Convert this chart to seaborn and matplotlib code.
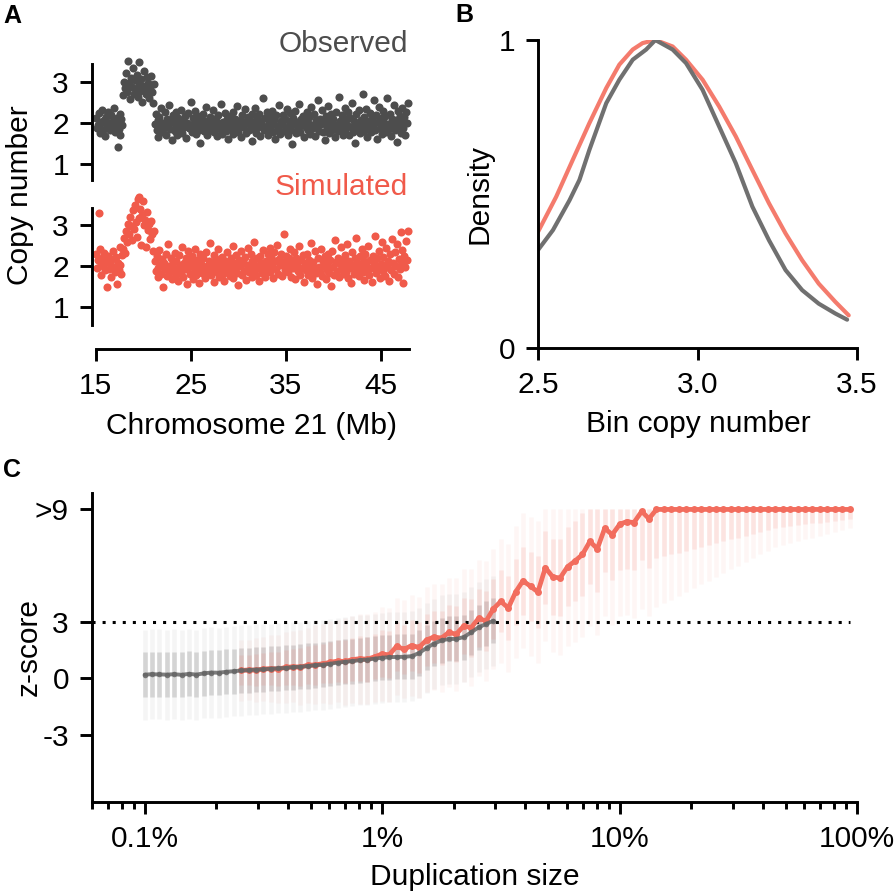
import numpy as np
import pandas as pd
import matplotlib
matplotlib.use("Agg")
import matplotlib.pyplot as plt
import seaborn as sns
from matplotlib.ticker import LogLocator, NullFormatter

# Style
sns.set_style("ticks")
plt.rcParams["font.family"] = ["Liberation Sans", "DejaVu Sans"]
plt.rcParams["axes.edgecolor"] = "black"
plt.rcParams["xtick.color"] = "black"
plt.rcParams["ytick.color"] = "black"
plt.rcParams["text.color"] = "black"
plt.rcParams["axes.labelcolor"] = "black"

FS = 21.5
OBS_A, SIM_A = "#4D4D4D", "#F05A4A"
OBS_B, SIM_B = "#707070", "#F47B6D"
OBS_C, SIM_C = "#666666", "#F26D5E"

# ---------------- Panel A: copy number per 100 kb bin on chr21 ----------------
bin_start_mb = 15.0
bin_size_mb = 0.1

obs_left = [212, 188, 195, 224, 176, 203, 199, 231, 184, 207,
            168, 215, 193, 226, 201, 182, 219, 190, 205, 236,
            178, 197, 213, 141, 186, 222, 171, 209, 194]
obs_dup = [268, 301, 285, 322, 276, 352, 297, 259, 311, 288,
           334, 272, 305, 282, 318, 264, 295, 348, 279, 308,
           251, 291, 326, 284, 270, 312, 298, 262, 287, 315,
           276, 248, 294]
obs_right = [198, 221, 183, 207, 165, 214, 192, 236, 178, 201, 189, 227, 172, 210, 195, 244, 186, 203, 158, 219,
             208, 181, 226, 194, 170, 212, 199, 185, 231, 176, 205, 191, 218, 163, 200, 224, 187, 196, 252, 179,
             213, 188, 204, 229, 174, 197, 216, 183, 151, 209, 193, 222, 180, 206, 239, 171, 201, 190, 215, 184,
             196, 232, 177, 211, 189, 205, 168, 220, 199, 186, 247, 174, 203, 192, 225, 181, 210, 160, 198, 217,
             185, 202, 228, 173, 194, 211, 187, 241, 179, 206, 195, 166, 219, 190, 203, 233, 176, 200, 214, 182,
             207, 193, 155, 221, 186, 199, 237, 175, 210, 191, 223, 169, 204, 196, 260, 183, 212, 188, 227, 172,
             201, 216, 184, 195, 230, 178, 208, 162, 220, 193, 185, 243, 174, 206, 198, 219, 181, 211, 189, 235,
             170, 204, 192, 224, 183, 150, 213, 197, 229, 176, 202, 188, 246, 179, 209, 194, 218, 165, 205, 190,
             226, 182, 200, 214, 173, 238, 196, 187, 221, 168, 207, 193, 255, 180, 211, 198, 232, 177, 203, 159,
             217, 189, 206, 242, 175, 199, 223, 184, 210, 192, 166, 228, 195, 181, 264, 204, 187, 219, 172, 201,
             236, 183, 209, 196, 226, 170, 213, 190, 248, 178, 205, 152, 222, 198, 186, 231, 175, 207, 193, 270,
             181, 215, 199, 234, 167, 204, 189, 225, 177, 210, 196, 257, 184, 219, 161, 202, 240, 188, 213, 174,
             206, 229, 191, 217, 179, 262, 198, 185, 223, 169, 211, 195, 245, 182, 208, 154, 230, 193, 218, 176,
             203, 236, 187, 214, 171, 226, 199, 248]

sim_left = [228, 196, 214, 329, 241, 205, 177, 219, 200, 232,
            189, 210, 149, 224, 193, 206, 172, 217, 236, 198,
            185, 222, 155, 208, 190, 246, 202, 181, 226]
sim_dup = [242, 268, 231, 285, 259, 302, 277, 318, 296, 262,
           335, 289, 348, 307, 271, 362, 316, 368, 338, 251,
           324, 357, 299, 312, 245, 331, 287, 303, 266, 309,
           278, 236, 284]
sim_right = [211, 187, 224, 196, 172, 238, 203, 181, 216, 148, 207, 193, 229, 176, 254, 199, 185, 220, 168, 209,
             195, 231, 178, 213, 190, 162, 226, 201, 184, 245, 173, 206, 192, 218, 157, 237, 198, 181, 210, 224,
             169, 203, 190, 242, 177, 214, 196, 158, 228, 205, 183, 219, 193, 171, 235, 200, 186, 212, 255, 179,
             207, 192, 226, 160, 199, 217, 184, 240, 174, 208, 195, 222, 181, 164, 213, 198, 233, 187, 204, 176,
             219, 190, 248, 171, 206, 193, 227, 182, 153, 214, 199, 236, 178, 210, 187, 221, 166, 202, 243, 185,
             196, 230, 174, 211, 189, 257, 201, 179, 218, 194, 163, 225, 206, 183, 239, 197, 172, 213, 191, 228,
             208, 243, 186, 222, 199, 170, 234, 211, 193, 251, 180, 216, 203, 228, 176, 209, 278, 190, 224, 197,
             185, 219, 206, 241, 174, 212, 195, 233, 168, 220, 201, 187, 248, 179, 214, 196, 226, 161, 208, 190,
             230, 177, 203, 215, 188, 256, 171, 209, 194, 237, 182, 157, 220, 198, 186, 242, 175, 211, 200, 224,
             168, 205, 191, 229, 183, 214, 150, 236, 197, 178, 262, 209, 188, 220, 173, 204, 246, 192, 215, 181,
             199, 227, 186, 253, 170, 212, 195, 158, 234, 203, 180, 218, 268, 191, 207, 176, 225, 198, 240, 184,
             213, 166, 230, 201, 189, 249, 178, 215, 196, 160, 224, 207, 273, 183, 219, 194, 236, 171, 205, 258,
             188, 221, 202, 176, 244, 197, 213, 162, 229, 190, 266, 208, 181, 235, 199, 253, 174, 216, 193, 282,
             206, 238, 159, 224, 197, 261, 214, 286]

chrom_ticks = [15, 25, 35, 45]

# ---------------- Panel B: density of bin copy number in the duplication ----------------
dens_obs_x = [2.500, 2.547, 2.599, 2.630, 2.661, 2.714, 2.755, 2.797, 2.839, 2.868, 2.922,
              2.964, 3.016, 3.068, 3.120, 3.172, 3.224, 3.276, 3.328, 3.380, 3.432, 3.469]
dens_obs_y = [0.318, 0.383, 0.480, 0.546, 0.643, 0.795, 0.871, 0.936, 0.969, 1.000, 0.969,
              0.925, 0.838, 0.719, 0.600, 0.459, 0.350, 0.253, 0.188, 0.144, 0.112, 0.092]
dens_sim_x = [2.500, 2.557, 2.609, 2.661, 2.714, 2.755, 2.797, 2.828, 2.868, 2.922, 2.964,
              3.016, 3.068, 3.120, 3.172, 3.224, 3.276, 3.328, 3.380, 3.432, 3.474]
dens_sim_y = [0.377, 0.491, 0.611, 0.730, 0.844, 0.920, 0.969, 0.990, 1.000, 0.979, 0.936,
              0.871, 0.784, 0.687, 0.578, 0.470, 0.372, 0.285, 0.209, 0.150, 0.106]

# ---------------- Panel C: z-score vs duplication size ----------------
size_pct = [0.100, 0.107, 0.115, 0.124, 0.133, 0.143, 0.154, 0.165, 0.178, 0.191,
            0.205, 0.221, 0.237, 0.255, 0.274, 0.294, 0.316, 0.340, 0.365, 0.392,
            0.422, 0.453, 0.487, 0.523, 0.562, 0.604, 0.649, 0.698, 0.750, 0.806,
            0.866, 0.931, 1.00, 1.07, 1.15, 1.24, 1.33, 1.43, 1.54, 1.65,
            1.78, 1.91, 2.05, 2.21, 2.37, 2.55, 2.74, 2.94, 3.16, 3.40,
            3.65, 3.92, 4.22, 4.53, 4.87, 5.23, 5.62, 6.04, 6.49, 6.98,
            7.50, 8.06, 8.66, 9.31, 10.0, 10.7, 11.5, 12.4, 13.3, 14.3,
            15.4, 16.5, 17.8, 19.1, 20.5, 22.1, 23.7, 25.5, 27.4, 29.4,
            31.6, 34.0, 36.5, 39.2, 42.2, 45.3, 48.7, 52.3, 56.2, 60.4,
            64.9, 69.8, 75.0, 80.6, 86.6, 93.1]

# observed median z-score (first 48 sizes)
obs_z = [0.20, 0.22, 0.21, 0.20, 0.22, 0.19, 0.24, 0.20, 0.27, 0.31,
         0.30, 0.35, 0.38, 0.42, 0.44, 0.47, 0.48, 0.52, 0.53, 0.56,
         0.60, 0.62, 0.66, 0.70, 0.73, 0.78, 0.84, 0.88, 0.92, 0.97,
         1.00, 1.05, 1.10, 1.13, 1.14, 1.15, 1.18, 1.35, 1.62, 1.85,
         2.02, 2.10, 2.10, 2.20, 2.45, 2.72, 2.90, 3.07]
obs_spread = 1.2

# simulated median z-score (sizes from index 13 on), capped at >9
sim_start = 13
sim_z = [0.42, 0.45, 0.44, 0.50, 0.52, 0.50, 0.58, 0.62, 0.60, 0.70,
         0.72, 0.78, 0.85, 0.92, 0.90, 1.00, 1.05, 1.02, 1.15, 1.30,
         1.25, 1.70, 1.55, 1.75, 1.65, 2.05, 2.20, 2.15, 2.45, 2.35,
         2.80, 2.70, 3.20, 3.05, 3.70, 4.10, 3.75, 4.60, 5.20, 4.90,
         4.60, 5.90, 5.40, 5.35, 5.95, 6.25, 6.60, 7.30, 6.90, 8.00,
         7.65, 8.20, 8.35, 8.30, 8.90, 8.50, 9.00, 9.00, 9.00, 9.00,
         9.00, 9.00, 9.00, 9.00, 9.00, 9.00, 9.00, 9.00, 9.00, 9.00,
         9.00, 9.00, 9.00, 9.00, 9.00, 9.00, 9.00, 9.00, 9.00, 9.00,
         9.00, 9.00, 9.00]
sim_spread = [0.80, 0.80, 0.85, 0.85, 0.90, 0.90, 0.95, 0.95,
              1.00, 1.00, 1.05, 1.05, 1.10, 1.10, 1.15, 1.15, 1.20, 1.20, 1.20,
              1.25, 1.25, 1.30, 1.30, 1.35, 1.35, 1.40, 1.40, 1.45, 1.45, 1.50, 1.50, 1.55, 1.55, 1.60, 1.60,
              1.65, 1.70, 1.75, 1.80, 1.85, 1.90, 1.95, 2.00, 2.05, 2.10, 2.15, 2.20, 2.25, 2.30, 2.35, 2.40, 2.45,
              2.50, 2.55, 2.60, 2.60, 2.60,
              2.50, 2.40, 2.30, 2.20, 2.10, 2.00, 1.90, 1.80, 1.70, 1.60, 1.50, 1.40, 1.30,
              1.20, 1.10, 1.00, 0.95, 0.90, 0.85, 0.80, 0.75, 0.70, 0.65, 0.60, 0.55, 0.50]
z_cap = 9
z_threshold = 3
size_ticks = [0.1, 1, 10, 100]
size_labels = ["0.1%", "1%", "10%", "100%"]
z_ticks = [9, 3, 0, -3]
z_labels = [">9", "3", "0", "-3"]

# ---------------- figure ----------------
W, H = 896, 893
fig = plt.figure(figsize=(W / 100, H / 100), dpi=100)


def px_axes(left, top, right, bottom):
    return fig.add_axes([left / W, 1 - bottom / H, (right - left) / W, (bottom - top) / H])


def style_axis(ax):
    sns.despine(ax=ax)
    for s in ax.spines.values():
        s.set_linewidth(2.1)
    ax.tick_params(which="major", length=8.6, width=2.1, labelsize=FS, pad=8)
    ax.set_xlabel("")
    ax.set_ylabel("")


# Panel A
obs_cn = np.array(obs_left + obs_dup + obs_right) / 100
sim_cn = np.array(sim_left + sim_dup + sim_right) / 100
df_a = pd.concat([
    pd.DataFrame({"pos": bin_start_mb + bin_size_mb * np.arange(len(obs_cn)), "cn": obs_cn, "track": "Observed"}),
    pd.DataFrame({"pos": bin_start_mb + bin_size_mb * np.arange(len(sim_cn)), "cn": sim_cn, "track": "Simulated"}),
])

ax_obs = px_axes(92, 64, 411, 180)
ax_sim = px_axes(92, 208, 411, 325)
for ax, track, color, ylim in [(ax_obs, "Observed", OBS_A, (0.61, 3.44)),
                               (ax_sim, "Simulated", SIM_A, (0.56, 3.41))]:
    sns.scatterplot(data=df_a[df_a["track"] == track], x="pos", y="cn", color=color,
                    s=34, linewidth=0, ax=ax, legend=False, clip_on=False)
    ax.set_xlim(14.6, 48.2)
    ax.set_ylim(*ylim)
    ax.set_yticks([1, 2, 3])
    style_axis(ax)

ax_obs.spines["bottom"].set_visible(False)
ax_obs.tick_params(axis="x", bottom=False, labelbottom=False)
ax_sim.spines["bottom"].set_position(("outward", 17))
ax_sim.spines["bottom"].set_bounds(15, 48)
ax_sim.set_xticks(chrom_ticks)

fig.text(408 / W, 1 - 44 / H, "Observed", ha="right", va="center", color=OBS_A, fontsize=FS)
fig.text(408 / W, 1 - 187 / H, "Simulated", ha="right", va="center", color=SIM_A, fontsize=FS)
fig.text(28 / W, 1 - 195 / H, "Copy number", rotation=90, rotation_mode="anchor",
         ha="center", va="baseline", fontsize=FS)
fig.text(251 / W, 1 - 434 / H, "Chromosome 21 (Mb)", ha="center", va="baseline", fontsize=FS)

# Panel B
ax_b = px_axes(538, 40, 857, 348)
sns.lineplot(x=dens_sim_x, y=dens_sim_y, color=SIM_B, lw=3, ax=ax_b)
sns.lineplot(x=dens_obs_x, y=dens_obs_y, color=OBS_B, lw=3, ax=ax_b)
ax_b.set_xlim(2.5, 3.5)
ax_b.set_ylim(0, 1)
ax_b.set_xticks([2.5, 3.0, 3.5])
ax_b.set_xticklabels(["2.5", "3.0", "3.5"])
ax_b.set_yticks([0, 1])
style_axis(ax_b)
fig.text(488 / W, 1 - 194 / H, "Density", rotation=90, rotation_mode="anchor",
         ha="center", va="baseline", fontsize=FS)
fig.text(698 / W, 1 - 432 / H, "Bin copy number", ha="center", va="baseline", fontsize=FS)

# Panel C
ax_c = px_axes(92, 492.7, 857, 801.7)
ax_c.set_xscale("log")

obs_x = np.array(size_pct[:len(obs_z)])
obs_m = np.array(obs_z)
sim_x = np.array(size_pct[sim_start:sim_start + len(sim_z)])
sim_m = np.array(sim_z)
sim_sp = np.array(sim_spread)

# spread of individual duplications at each size, drawn as faint columns
ax_c.vlines(obs_x, obs_m - 2 * obs_spread, obs_m + 2 * obs_spread, color="#8C8C8C", alpha=0.08, lw=3.3, zorder=1)
ax_c.vlines(obs_x, obs_m - obs_spread, obs_m + obs_spread, color="#808080", alpha=0.28, lw=3.3, zorder=1)
ax_c.vlines(sim_x, sim_m - 2 * sim_sp, np.minimum(sim_m + 2 * sim_sp, z_cap), color=SIM_C, alpha=0.06, lw=3.3, zorder=1)
ax_c.vlines(sim_x, sim_m - sim_sp, np.minimum(sim_m + sim_sp, z_cap), color=SIM_C, alpha=0.13, lw=3.3, zorder=1)

ax_c.hlines(z_threshold, 0.06, size_pct[-1], color="black", lw=2.2, linestyles=(0, (1, 2.3)), zorder=2)

sns.lineplot(x=sim_x, y=sim_m, color=SIM_C, lw=3.4, marker="o", markersize=5,
             markeredgewidth=0, ax=ax_c, zorder=3)
sns.lineplot(x=obs_x, y=obs_m, color=OBS_C, lw=2.8, marker="o", markersize=4,
             markeredgewidth=0, alpha=0.85, ax=ax_c, zorder=4)

ax_c.set_xlim(0.06, 100)
ax_c.set_ylim(-6.57, 9.89)
ax_c.set_xticks(size_ticks)
ax_c.set_xticklabels(size_labels)
ax_c.xaxis.set_minor_locator(LogLocator(base=10, subs=np.arange(2, 10)))
ax_c.xaxis.set_minor_formatter(NullFormatter())
ax_c.set_yticks(z_ticks)
ax_c.set_yticklabels(z_labels)
style_axis(ax_c)
ax_c.tick_params(which="minor", length=5, width=2.1)
fig.text(37 / W, 1 - 647 / H, "z-score", rotation=90, rotation_mode="anchor",
         ha="center", va="baseline", fontsize=FS)
fig.text(474.5 / W, 1 - 885 / H, "Duplication size", ha="center", va="baseline", fontsize=FS)

# panel letters
fig.text(3 / W, 1 - 23 / H, "A", fontsize=18, fontweight="bold", va="baseline")
fig.text(455 / W, 1 - 22 / H, "B", fontsize=18, fontweight="bold", va="baseline")
fig.text(3 / W, 1 - 477 / H, "C", fontsize=18, fontweight="bold", va="baseline")

fig.savefig("out.png", dpi=100)
plt.close(fig)
